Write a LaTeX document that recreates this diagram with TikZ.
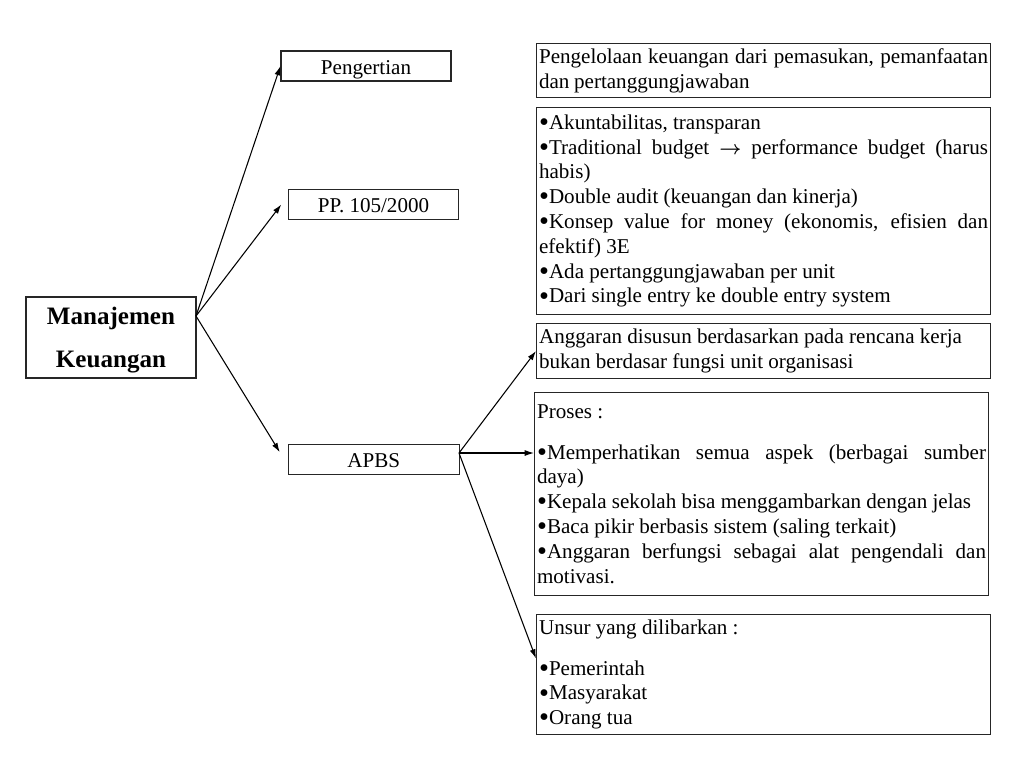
\documentclass[tikz,border=0pt]{standalone}
\usepackage{amsmath}
\usepackage{fontspec}
\setmainfont{Liberation Serif}
\usetikzlibrary{arrows.meta}
\newcommand{\butir}{\raisebox{-1.6pt}{\scalebox{1.35}{•}}}
\begin{document}
\begin{tikzpicture}[x=0.75pt,y=-0.75pt,line width=0.8pt,
  every node/.style={font=\fontsize{15.8}{18.6}\selectfont},
  topic/.style={draw=black!85,minimum width=127.5pt,minimum height=22.5pt,inner sep=0pt,text height=12.5pt,text depth=0pt},
  note/.style={draw=black!85,anchor=north west,text width=336.7pt,align=justify,inner xsep=1.9pt,inner ysep=0pt},
  link/.style={-{Latex[length=7pt,width=4.5pt]}}]
\useasboundingbox (0,0) rectangle (1024,768);
\node[draw=black!85,minimum width=127.5pt,minimum height=60.75pt,align=center,font=\fontsize{18.8}{32}\selectfont\bfseries] (mk) at (111,337.5) {Manajemen\\\raisebox{0pt}[\height][-6pt]{Keuangan}};
\node[topic] (peng) at (366,66) {Pengertian};
\node[topic] (pp) at (373.5,204.5) {PP. 105/2000};
\node[topic,minimum width=128.25pt] (apbs) at (373.8,459.5) {APBS};
\node[note,minimum height=40.5pt] (def) at (536,43) {\spaceskip=.22em plus .15em minus .08em
Pengelolaan keuangan dari pemasukan, pemanfaatan\linebreak dan pertanggungjawaban};
\node[note,minimum height=155.25pt] (ciri) at (536,107) {\butir Akuntabilitas, transparan\par
\butir Traditional budget $\boldsymbol{\rightarrow}$ performance budget (harus\linebreak habis)\par
\butir Double audit (keuangan dan kinerja)\par
\butir Konsep value for money (ekonomis, efisien dan\linebreak efektif) 3E\par
\butir Ada pertanggungjawaban per unit\par
\butir Dari single entry ke double entry system};
\node[note,minimum height=41.25pt] (susun) at (536,323) {Anggaran disusun berdasarkan pada rencana kerja\par bukan berdasar fungsi unit organisasi};
\node[note,minimum height=152.25pt] (proses) at (534,392) {Proses :\par\vspace{12pt}
\butir Memperhatikan semua aspek (berbagai sumber\linebreak daya)\par
\butir Kepala sekolah bisa menggambarkan dengan jelas\par
\butir Baca pikir berbasis sistem (saling terkait)\par
\butir Anggaran berfungsi sebagai alat pengendali dan\linebreak motivasi.};
\node[note,minimum height=90pt] (unsur) at (536,614) {Unsur yang dilibarkan :\par\vspace{12pt}
\butir Pemerintah\par
\butir Masyarakat\par
\butir Orang tua};
\coordinate (mkout) at (196,316);
\coordinate (apout) at (459,453);
\draw[link] (mkout) -- (peng.west);
\draw[link] (mkout) -- ([xshift=-5pt]pp.west);
\draw[link] (mkout) -- ([xshift=-6pt,yshift=5.5pt]apbs.west);
\draw[link] (apout) -- (susun.west);
\draw[link] (apout) -- (apout -| proses.west);
\draw[link] (apout) -- ([yshift=12pt]unsur.west);
\end{tikzpicture}
\end{document}
